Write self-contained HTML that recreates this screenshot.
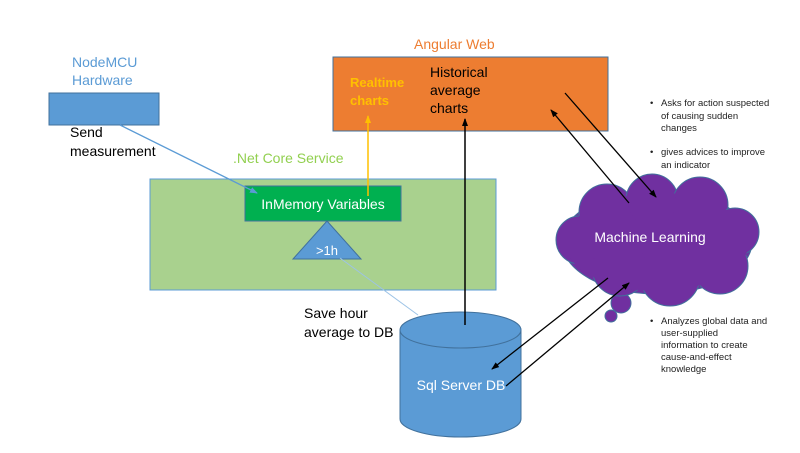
<!DOCTYPE html>
<html><head><style>
body{margin:0;background:#fff}
svg text{font-family:"Liberation Sans",sans-serif}
</style></head><body>
<svg width="800" height="448" viewBox="0 0 800 448" xmlns="http://www.w3.org/2000/svg">
<defs>
<marker id="ab" markerWidth="8" markerHeight="8" refX="7" refY="4" orient="auto" markerUnits="userSpaceOnUse"><path d="M0,1 L8,4 L0,7z" fill="#000"/></marker>
<marker id="abl" markerWidth="8" markerHeight="8" refX="7" refY="4" orient="auto" markerUnits="userSpaceOnUse"><path d="M0,1 L8,4 L0,7z" fill="#5b9bd5"/></marker>
<marker id="ay" markerWidth="8" markerHeight="8" refX="7" refY="4" orient="auto" markerUnits="userSpaceOnUse"><path d="M0,1 L8,4 L0,7z" fill="#ffc000"/></marker>
</defs>
<text x="72" y="67" font-size="14" fill="#5b9bd5">NodeMCU</text>
<text x="72" y="85" font-size="14" fill="#5b9bd5">Hardware</text>
<rect x="49" y="93" width="110" height="32" fill="#5b9bd5" stroke="#41719c"/>
<text x="70" y="137" font-size="14" fill="#000">Send</text>
<text x="70" y="156" font-size="14" fill="#000">measurement</text>
<text x="414" y="49" font-size="14" fill="#ed7d31">Angular Web</text>
<rect x="333" y="57" width="275" height="74" fill="#ed7d31" stroke="#41719c"/>
<text x="350" y="87" font-size="13" font-weight="bold" fill="#ffc000">Realtime</text>
<text x="350" y="105" font-size="13" font-weight="bold" fill="#ffc000">charts</text>
<text x="430" y="77" font-size="14" fill="#000">Historical</text>
<text x="430" y="95" font-size="14" fill="#000">average</text>
<text x="430" y="113" font-size="14" fill="#000">charts</text>
<text x="233" y="163" font-size="14" fill="#92d050">.Net Core Service</text>
<rect x="150" y="179" width="346" height="111" fill="#a9d18e" stroke="#5b9bd5"/>
<rect x="245" y="186" width="156" height="35" fill="#00b050" stroke="#41719c"/>
<text x="323" y="209" font-size="14" fill="#fff" text-anchor="middle">InMemory Variables</text>
<path d="M327,221 L361,259 L293,259z" fill="#5b9bd5" stroke="#41719c"/>
<text x="327" y="255" font-size="13" fill="#fff" text-anchor="middle">&gt;1h</text>
<line x1="120" y1="125" x2="257" y2="193" stroke="#5b9bd5" stroke-width="1.3" marker-end="url(#abl)"/>
<line x1="368" y1="196" x2="368" y2="116" stroke="#ffc000" stroke-width="1.5" marker-end="url(#ay)"/>
<line x1="340" y1="258" x2="418" y2="315" stroke="#9dc3e6" stroke-width="1"/>
<text x="304" y="318" font-size="14" fill="#000">Save hour</text>
<text x="304" y="337" font-size="14" fill="#000">average to DB</text>
<path d="M400,330 L400,419 A60.5,18 0 0 0 521,419 L521,330z" fill="#5b9bd5" stroke="#41719c"/>
<ellipse cx="460.5" cy="330" rx="60.5" ry="18" fill="#5b9bd5" stroke="#41719c"/>
<text x="461" y="390" font-size="14" fill="#fff" text-anchor="middle">Sql Server DB</text>
<line x1="465" y1="325" x2="465" y2="119" stroke="#000" stroke-width="1.5" marker-end="url(#ab)"/>
<g fill="#7030a0" stroke="#41719c" stroke-width="1">
<circle cx="611" cy="316" r="6"/>
<circle cx="621" cy="303" r="10"/>
<ellipse cx="657" cy="242" rx="95" ry="52"/>
<circle cx="607" cy="212" r="28"/>
<circle cx="652" cy="200" r="26"/>
<circle cx="700" cy="205" r="28"/>
<circle cx="735" cy="232" r="24"/>
<circle cx="720" cy="266" r="28"/>
<circle cx="670" cy="276" r="30"/>
<circle cx="620" cy="268" r="28"/>
<circle cx="580" cy="240" r="24"/>
</g>
<ellipse cx="657" cy="242" rx="92" ry="49" fill="#7030a0"/>
<circle cx="607" cy="214" r="26" fill="#7030a0"/><circle cx="652" cy="202" r="24" fill="#7030a0"/><circle cx="700" cy="207" r="26" fill="#7030a0"/><circle cx="733" cy="232" r="22" fill="#7030a0"/><circle cx="718" cy="265" r="26" fill="#7030a0"/><circle cx="670" cy="274" r="28" fill="#7030a0"/><circle cx="620" cy="266" r="26" fill="#7030a0"/><circle cx="582" cy="240" r="22" fill="#7030a0"/>
<text x="650" y="242" font-size="14" fill="#fff" text-anchor="middle">Machine Learning</text>
<line x1="629" y1="203" x2="551" y2="110" stroke="#000" stroke-width="1.3" marker-end="url(#ab)"/>
<line x1="565" y1="93" x2="656" y2="197" stroke="#000" stroke-width="1.3" marker-end="url(#ab)"/>
<line x1="608" y1="278" x2="492" y2="369" stroke="#000" stroke-width="1.3" marker-end="url(#ab)"/>
<line x1="506" y1="386" x2="629" y2="283" stroke="#000" stroke-width="1.3" marker-end="url(#ab)"/>
<g font-size="9.5" fill="#222">
<text x="650" y="106">•</text><text x="661" y="106">Asks for action suspected</text>
<text x="661" y="119">of causing sudden</text><text x="661" y="131">changes</text>
<text x="650" y="155">•</text><text x="661" y="155">gives advices to improve</text>
<text x="661" y="168">an indicator</text>
<text x="650" y="324">•</text><text x="661" y="324">Analyzes global data and</text>
<text x="661" y="336">user-supplied</text><text x="661" y="348">information to create</text>
<text x="661" y="360">cause-and-effect</text><text x="661" y="372">knowledge</text>
</g>
</svg>
</body></html>
